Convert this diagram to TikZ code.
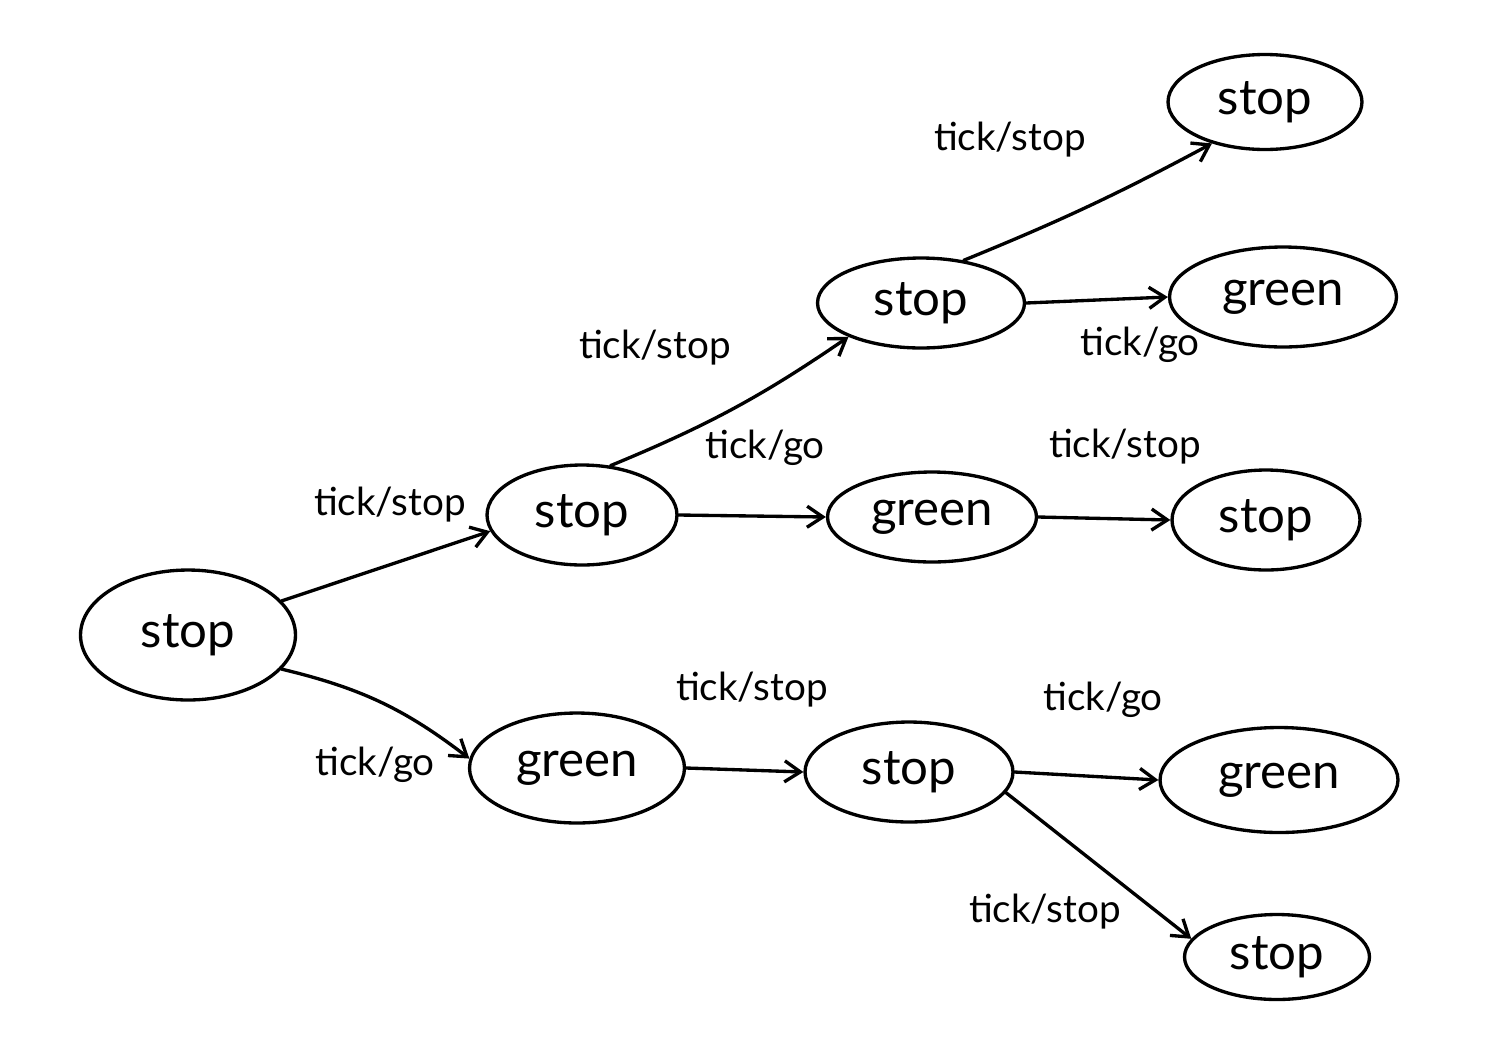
\documentclass[tikz,border=0pt]{standalone}
\usepackage{fontspec}
\setmainfont{Lato}
\usetikzlibrary{shapes.geometric,arrows.meta}
\begin{document}
\begin{tikzpicture}[x=0.02cm,y=-0.02cm,
  state/.style={ellipse,draw,line width=1.9pt,inner sep=0pt,font=\fontsize{28}{32}\selectfont},
  lbl/.style={inner sep=0pt,font=\fontsize{22}{24}\selectfont},
  arr/.style={line width=1.9pt,-{Straight Barb[length=9pt,width=12pt,line width=1.9pt]},line cap=round}]
\useasboundingbox (0,0) rectangle (1497,1062);
\node[state,minimum width=4.3cm,minimum height=2.6cm] (s0) at (188,635) {stop};
\node[state,minimum width=3.8cm,minimum height=2.0cm] (s1) at (582,515) {stop};
\node[state,minimum width=4.3cm,minimum height=2.2cm] (g1) at (577,768) {green};
\node[state,minimum width=4.14cm,minimum height=1.8cm] (s2) at (921,303) {stop};
\node[state,minimum width=4.18cm,minimum height=1.8cm] (g2) at (932,517) {green};
\node[state,minimum width=4.16cm,minimum height=2.0cm] (s3) at (909,772) {stop};
\node[state,minimum width=3.88cm,minimum height=1.9cm] (s4) at (1265,102) {stop};
\node[state,minimum width=4.54cm,minimum height=2.0cm] (g3) at (1283,297) {green};
\node[state,minimum width=3.76cm,minimum height=2.0cm] (s5) at (1266,520) {stop};
\node[state,minimum width=4.76cm,minimum height=2.1cm] (g4) at (1279,780) {green};
\node[state,minimum width=3.7cm,minimum height=1.7cm] (s6) at (1277,957) {stop};

\draw[arr] (s0.20) -- (s1.190);
\draw[arr] (s0.-20) to[bend left=12] (g1.175);
\draw[arr] (s1.60) to[bend right=6] (s2.205);
\draw[arr] (s1.east) -- (g2.west);
\draw[arr] (s2.45) to[bend right=3] (s4.218);
\draw[arr] (s2.east) -- (g3.west);
\draw[arr] (g2.east) -- (s5.west);
\draw[arr] (g1.east) -- (s3.west);
\draw[arr] (s3.east) -- (g4.west);
\draw[arr] (s3.-12) -- (s6.168);

\node[lbl] (l1) at (390,505) {tick/stop};
\node[lbl] (l2) at (375,765) {tick/go};
\node[lbl] (l3) at (655,348) {tick/stop};
\node[lbl] (l4) at (765,448) {tick/go};
\node[lbl] (l5) at (1010,140) {tick/stop};
\node[lbl] (l6) at (1140,345) {tick/go};
\node[lbl] (l7) at (1125,447) {tick/stop};
\node[lbl] (l8) at (752,690) {tick/stop};
\node[lbl] (l9) at (1103,700) {tick/go};
\node[lbl] (l10) at (1045,912) {tick/stop};
\end{tikzpicture}
\end{document}
